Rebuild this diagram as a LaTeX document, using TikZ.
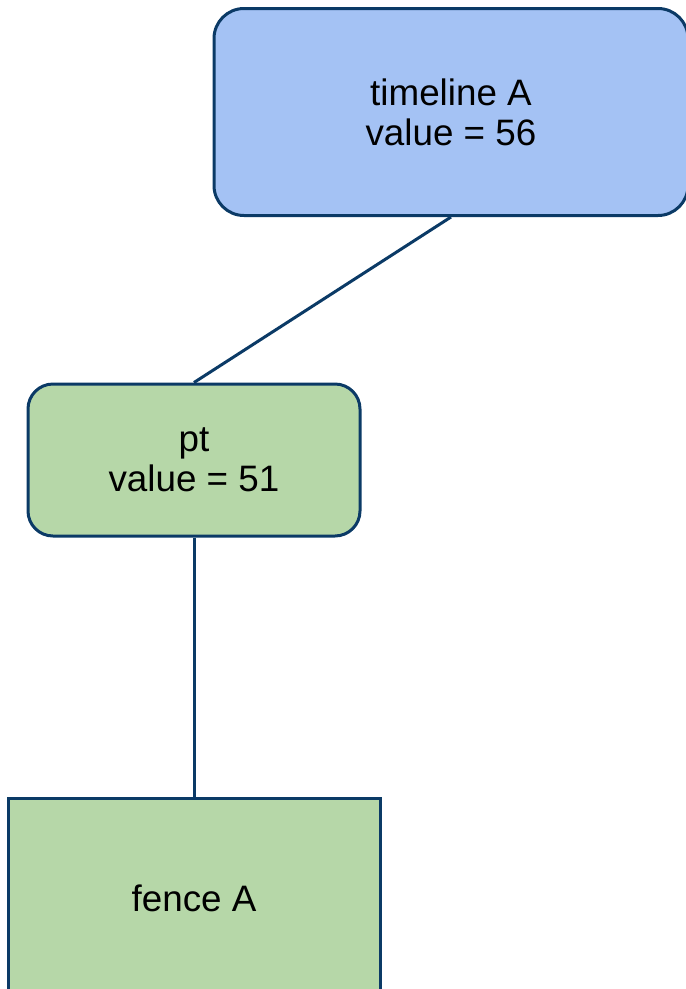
\documentclass[tikz,border=0pt]{standalone}
\usepackage{fontspec}
\setmainfont{Liberation Sans}
\definecolor{edgeblue}{HTML}{0B3A66}
\definecolor{boxblue}{HTML}{A4C2F4}
\definecolor{boxgreen}{HTML}{B6D7A8}
\begin{document}
\begin{tikzpicture}[x=1pt,y=-1pt,
  box/.style={draw=edgeblue,line width=3pt,inner sep=0pt,align=center,
    font=\fontsize{36.8}{40}\selectfont},
  link/.style={draw=edgeblue,line width=3pt}]
\useasboundingbox (0,0) rectangle (686,989);
\clip (0,0) rectangle (686,989);
\node[box,fill=boxblue,rounded corners=30pt,minimum width=474pt,minimum height=207pt]
  (tl) at (451,112) {timeline A\\value = 56};
\node[box,fill=boxgreen,rounded corners=25pt,minimum width=332pt,minimum height=152pt]
  (pt) at (194,460) {pt\\value = 51};
\node[box,fill=boxgreen,minimum width=372pt,minimum height=200pt]
  (fence) at (194,898) {fence A};
\draw[link] (tl.south) -- (pt.north);
\draw[link] (pt.south) -- (fence.north);
\end{tikzpicture}
\end{document}
